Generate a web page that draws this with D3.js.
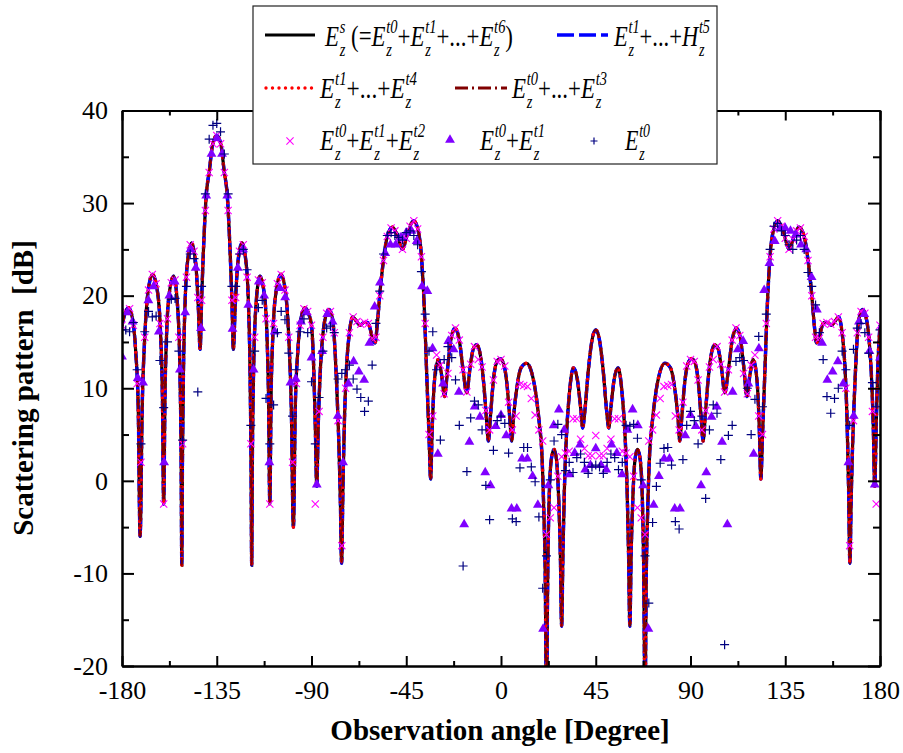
<!DOCTYPE html>
<html>
<head>
<meta charset="utf-8">
<script src="https://d3js.org/d3.v7.min.js"></script>
<style>
  body { margin: 0; background: #fff; }
  text { font-family: "Liberation Serif", "Times New Roman", serif; }
</style>
</head>
<body>
<svg id="chart" width="903" height="753"></svg>
<script>
// total scattered field E_z^s (the four line series coincide)
const totalPattern = [
  [-180,16.8],[-178.7,18],[-176.9,18.7],[-175,17.5],[-173.5,14],[-172.3,8],[-171.4,-6],[-170.4,8],[-169.2,15.5],[-167.7,20.3],
  [-165.5,22.3],[-163.2,20.5],[-161.7,16],[-160.8,9],[-160.2,-2.5],[-159.6,9],[-158.8,16],[-157.5,20.3],[-155.5,22.1],[-153.5,18.5],
  [-152.5,12],[-151.9,2],[-151.6,-9.1],[-151.3,2],[-150.8,12],[-150,19.5],[-148.7,24],[-147,25.7],[-145,23.5],[-143.7,18.5],
  [-142.9,14.2],[-142.2,19.5],[-141.3,25],[-140,30.8],[-138.5,33.5],[-137,36.3],[-135,37.3],[-133,36.3],[-131.5,33.5],[-130,30.8],
  [-128.7,25],[-127.8,19.5],[-127.1,14.2],[-126.3,18.5],[-125,23.5],[-123,25.7],[-121.3,24],[-120,19.5],[-119.2,12],[-118.7,2],
  [-118.4,-9.1],[-118.1,2],[-117.5,12],[-116.5,18.5],[-114.5,22.1],[-112.5,20.3],[-111.2,16],[-110.4,9],[-109.8,-2.5],[-109.2,9],
  [-108.3,16],[-106.8,20.5],[-104.5,22.3],[-102.3,20.3],[-100.8,15.5],[-99.6,8],[-98.6,-5],[-97.7,8],[-96.5,14],[-95,17.5],
  [-93.1,18.7],[-91.3,18],[-90,16.8],[-89,12.5],[-88.2,6],[-87.5,-0.6],[-86.8,6],[-85.8,12],[-84.5,16],[-83,18],
  [-81.7,18.5],[-80,17.5],[-78.8,14],[-77.8,9],[-77,4],[-76.3,-2],[-75.7,-8.9],[-75.1,-1],[-74.3,7],[-73.3,12.5],
  [-72,16],[-70.5,17.7],[-68.5,17.2],[-67,16.8],[-65,17.1],[-63.3,17.1],[-62,16.3],[-61,15.2],[-59.8,14.9],[-58.8,16.8],
  [-57.5,20.3],[-56,23.5],[-54,26.4],[-51.5,27.4],[-49,26.3],[-46.8,25],[-44.5,26.6],[-41.5,28.1],[-39.3,27],[-37.7,24],
  [-36.4,18.5],[-35.2,11],[-34.2,5],[-33.4,0.2],[-32.7,5.5],[-31.6,10.8],[-29.8,13.1],[-28.2,11.4],[-26.8,9.1],[-25.3,12.3],
  [-23.6,15.5],[-21.8,16.5],[-19.8,15.2],[-18,12],[-16.3,9.5],[-14.7,12.2],[-13.1,14.3],[-11.5,14.7],[-9.8,13.6],[-8.2,10.5],
  [-7,7],[-6,4.3],[-5,7],[-3.6,10.9],[-1.9,12.9],[-0.4,13.2],[1.3,12.6],[2.8,10.5],[4.1,7],[5.1,4.3],
  [6,7],[7.5,10],[9.5,12.2],[12.2,12.7],[14.8,11.5],[16.8,9],[18.3,6],[19.4,3],[20.3,-3],[21,-10],
  [21.6,-24],[22.2,-10],[23,-1],[24,2.5],[25.2,3.4],[26.4,2.2],[27.4,-2],[28.2,-8],[28.8,-15.7],[29.4,-8],
  [30.1,-1],[31,4.5],[32.5,9.5],[34.4,12.2],[36.3,10.9],[37.9,7.7],[38.8,5.7],[39.8,7.5],[41.5,12],[43.3,15.3],
  [45,16.3],[46.7,15.3],[48.5,12],[50.2,7.5],[51.2,5.7],[52.1,7.7],[53.7,10.9],[55.6,12.2],[57.5,9.5],[59,4.5],
  [59.9,-1],[60.6,-8],[61.2,-15.7],[61.8,-8],[62.6,-2],[63.6,2.2],[64.8,3.4],[66,2.5],[67,-1],[67.8,-10],
  [68.4,-24],[69,-10],[69.7,-3],[70.6,3],[71.7,6],[73.2,9],[75.2,11.5],[77.8,12.7],[80.5,12.2],[82.5,10],
  [84,7],[84.9,4.3],[85.9,7],[87.2,10.5],[88.7,12.6],[90.4,13.2],[91.9,12.9],[93.6,10.9],[95,7],[96,4.3],
  [97,7],[98.2,10.5],[99.8,13.6],[101.5,14.7],[103.1,14.3],[104.7,12.2],[106.3,9.5],[108,12],[109.8,15.2],[111.8,16.5],
  [113.6,15.5],[115.3,12.3],[116.8,9.1],[118.2,11.4],[119.8,13.1],[121.6,10.8],[122.7,5.5],[123.4,0.2],[124.2,5],[125.2,11],
  [126.4,18.5],[127.7,24],[129.3,27],[131.5,28.1],[134.5,26.6],[136.8,25],[139,26.3],[141.5,27.4],[144,26.4],[146,23.5],
  [147.5,20.3],[148.8,16.8],[149.8,14.9],[151,15.2],[152,16.3],[153.3,17.1],[155,17.1],[157,16.8],[158.5,17.2],[160.5,17.7],
  [162,16],[163.3,12.5],[164.3,7],[165.1,-1],[165.7,-8.9],[166.3,-2],[167,4],[167.8,9],[168.8,14],[170,17.5],
  [171.7,18.5],[173,18],[174.5,16],[175.8,12],[176.8,6],[177.5,-0.6],[178.2,6],[179,12.5],[180,16.8]
];

// observation angles of the E0+E1+E2 and E0 samples (1.8 deg)
const anglesFine = [
  -180,-178.2,-176.4,-174.6,-172.8,-171,-169.2,-167.4,-165.6,-163.8,
  -162,-160.2,-158.4,-156.6,-154.8,-153,-151.2,-149.4,-147.6,-145.8,
  -144,-142.2,-140.4,-138.6,-136.8,-135,-133.2,-131.4,-129.6,-127.8,
  -126,-124.2,-122.4,-120.6,-118.8,-117,-115.2,-113.4,-111.6,-109.8,
  -108,-106.2,-104.4,-102.6,-100.8,-99,-97.2,-95.4,-93.6,-91.8,
  -90,-88.2,-86.4,-84.6,-82.8,-81,-79.2,-77.4,-75.6,-73.8,
  -72,-70.2,-68.4,-66.6,-64.8,-63,-61.2,-59.4,-57.6,-55.8,
  -54,-52.2,-50.4,-48.6,-46.8,-45,-43.2,-41.4,-39.6,-37.8,
  -36,-34.2,-32.4,-30.6,-28.8,-27,-25.2,-23.4,-21.6,-19.8,
  -18,-16.2,-14.4,-12.6,-10.8,-9,-7.2,-5.4,-3.6,-1.8,
  0,1.8,3.6,5.4,7.2,9,10.8,12.6,14.4,16.2,
  18,19.8,21.6,23.4,25.2,27,28.8,30.6,32.4,34.2,
  36,37.8,39.6,41.4,43.2,45,46.8,48.6,50.4,52.2,
  54,55.8,57.6,59.4,61.2,63,64.8,66.6,68.4,70.2,
  72,73.8,75.6,77.4,79.2,81,82.8,84.6,86.4,88.2,
  90,91.8,93.6,95.4,97.2,99,100.8,102.6,104.4,106.2,
  108,109.8,111.6,113.4,115.2,117,118.8,120.6,122.4,124.2,
  126,127.8,129.6,131.4,133.2,135,136.8,138.6,140.4,142.2,
  144,145.8,147.6,149.4,151.2,153,154.8,156.6,158.4,160.2,
  162,163.8,165.6,167.4,169.2,171,172.8,174.6,176.4,178.2,
  180
];

// E_z^t0 + E_z^t1 + E_z^t2  (x markers)
const sumT0T1T2 = [
  16.8,18.3,18.6,16.8,10.5,2,15.5,20.6,22.3,21.3,
  17,-2.5,17.5,21.4,21.7,15.5,4,22,25.5,24.8,
  19.8,19.5,29.2,33.3,36.4,37.3,36.4,33.3,29.2,19.5,
  19.8,24.8,25.5,22,4,15.5,21.7,21.4,17.5,-2.5,
  17,21.3,22.3,20.6,15.5,2,10.5,16.8,18.6,18.3,
  16.8,-2.5,7.5,15.5,18.1,18.3,16,6.5,-7,10,
  16,17.7,17.2,16.9,17.1,17,15.4,15.5,20,23.8,
  26.4,27.3,27,26.1,25,26.2,27.5,28.1,27.2,24.2,
  17,5,7,13.6,12.5,9.4,11.6,15.7,16.5,15.2,
  12,9.6,12.6,14.5,13.1,12.3,7.6,5.5,10.9,12.9,
  13.1,12.4,8.5,5.5,7,10.4,10.3,10.2,8.9,7.1,
  5.5,4.3,-5.8,-4,-2.9,0.5,2.6,3,3.2,6.7,
  6.7,4.5,3.5,2.7,2.7,4.9,2.7,2.7,3.5,4.5,
  6.7,6.7,3.2,3,2.6,0.5,-2.9,-4,-5.8,4.3,
  5.5,7.1,8.9,10.2,10.3,10.4,7,5.5,8.5,12.4,
  13.1,12.9,10.9,5.5,7.6,12.3,13.1,14.5,12.6,9.6,
  12,15.2,16.5,15.7,11.6,9.4,12.5,13.6,7,5,
  17,24.2,27.2,28.1,27.5,26.2,25,26.1,27,27.3,
  26.4,23.8,20,15.5,15.4,17,17.1,16.9,17.2,17.7,
  16,10,-7,6.5,16,18.3,18.1,15.5,7.5,-2.5,
  16.8
];

// E_z^t0 only  (+ markers)
const onlyT0 = [
  16.3,16.3,16.1,17.1,12,4,16.1,18.3,17.7,17.8,
  13,7.9,15,19.6,19.7,14,4.4,21,24.5,24,
  9.6,21,31,36.9,38.4,38.6,37.7,35.3,31,21,
  21,24.5,25,22.8,6,14,18.7,19.5,8.9,4,
  8.2,16,18.3,17.4,13.8,7,12,16.1,17.5,16,
  10.7,4,9,14,16.5,16.7,16,11,11.6,12,
  12.5,11,9.9,9,7.5,8.6,12.5,17,20.5,24.5,
  26.5,26.8,26.5,26.3,26,26.8,27,26.5,25.5,22.6,
  18,14,16.1,12,4.4,13.1,14.5,13.3,10.9,6,
  -9.2,1,6.8,8.6,8.2,5.5,-0.5,-4.2,3.3,6.5,
  7,6.2,3,-4.1,-4.4,1.4,3.6,3.6,1.5,-0.1,
  -3.9,-11.6,-8.1,0.1,4.3,6.1,5,1.1,2,0.9,
  2.5,2.9,2,0.8,1.5,1.7,1.5,0.8,2,2.9,
  2.5,1.2,2,6,5.9,6.1,4.6,0.1,-8.1,-13.2,
  -4.5,-0.6,1.9,3.5,3.6,1.7,-4.4,-5.2,2.3,6,
  7.5,6.5,4,7,-1.9,5.5,8.2,7.3,2.3,-17.7,
  4.9,6,12.9,13.3,13,10,5,8.8,15.6,8,
  18,25,27.5,27.8,27,26.5,25.5,25,26,26.5,
  25,22.5,21,19,16,13.1,9.1,7.3,8.9,10,
  14,12,6,14.2,16.5,17,16,13.8,10.6,8,
  16.3
];

// observation angles of the E0+E1 samples (2.5 deg)
const anglesCoarse = [
  -180,-177.5,-175,-172.5,-170,-167.5,-165,-162.5,-160,-157.5,
  -155,-152.5,-150,-147.5,-145,-142.5,-140,-137.5,-135,-132.5,
  -130,-127.5,-125,-122.5,-120,-117.5,-115,-112.5,-110,-107.5,
  -105,-102.5,-100,-97.5,-95,-92.5,-90,-87.5,-85,-82.5,
  -80,-77.5,-75,-72.5,-70,-67.5,-65,-62.5,-60,-57.5,
  -55,-52.5,-50,-47.5,-45,-42.5,-40,-37.5,-35,-32.5,
  -30,-27.5,-25,-22.5,-20,-17.5,-15,-12.5,-10,-7.5,
  -5,-2.5,0,2.5,5,7.5,10,12.5,15,17.5,
  20,22.5,25,27.5,30,32.5,35,37.5,40,42.5,
  45,47.5,50,52.5,55,57.5,60,62.5,65,67.5,
  70,72.5,75,77.5,80,82.5,85,87.5,90,92.5,
  95,97.5,100,102.5,105,107.5,110,112.5,115,117.5,
  120,122.5,125,127.5,130,132.5,135,137.5,140,142.5,
  145,147.5,150,152.5,155,157.5,160,162.5,165,167.5,
  170,172.5,175,177.5,180
];

// E_z^t0 + E_z^t1  (triangles)
const sumT0T1 = [
  13.4,18.2,17.2,11.1,10.6,19.5,21,16.1,2,20,
  21.5,12,18.2,25,23,16.5,30.8,35.3,37,35.3,
  30.8,16.4,23,25,19,12,21.5,20,2,16.1,
  20.8,19.8,10.6,11,17.2,18.2,13.3,-0.4,14,18,
  17.2,7,2,10.5,12.9,11.8,10.9,14.9,18.8,21.4,
  24.6,25.5,25.5,26.3,26.8,27,25.9,21,20.5,14.3,
  2.9,10.5,15.1,14.2,9.6,-4.7,4.2,8,6.9,0.9,
  -0.5,5.9,7.1,4.9,-3,-3,2.4,2.4,0.5,-2.6,
  -16,-0.5,6,7.7,5.5,0.7,3,3.9,1.2,1.7,
  3.5,1.7,1.2,3.9,3,0.7,5.5,7.7,6,-0.5,
  -16,-2.6,0.5,2.4,2.4,-3,-3,4.9,7.1,5.9,
  -0.5,0.9,6.9,8,4.2,-4.7,9.6,14.2,15.1,10.5,
  2.9,14.3,20.6,23.5,25.9,27.3,27.3,27,26.6,25.5,
  25,22,18.5,14.9,10.9,11.8,12.9,10.5,2,7,
  17.2,18,14,-0.4,13.3
];

const xMajor = [-180, -135, -90, -45, 0, 45, 90, 135, 180];
const xMinor = [-157.5, -112.5, -67.5, -22.5, 22.5, 67.5, 112.5, 157.5];
const xTickLabels = ['-180', '-135', '-90', '-45', '0', '45', '90', '135', '180'];
const yMajor = [-20, -10, 0, 10, 20, 30, 40];
const yMinor = [-15, -5, 5, 15, 25, 35];
const yTickLabels = ['-20', '-10', '0', '10', '20', '30', '40'];

// legend labels: strings are upright, arrays are [base, superscript, subscript]
const legendLabels = [
  [['E','s','z'], '\u00a0(=', ['E','t0','z'], '+', ['E','t1','z'], '+...+', ['E','t6','z'], ')'],
  [['E','t1','z'], '+...+', ['H','t5','z']],
  [['E','t1','z'], '+...+', ['E','t4','z']],
  [['E','t0','z'], '+...+', ['E','t3','z']],
  [['E','t0','z'], '+', ['E','t1','z'], '+', ['E','t2','z']],
  [['E','t0','z'], '+', ['E','t1','z']],
  [['E','t0','z']]
];

const serif = '"Liberation Serif", "Times New Roman", serif';
const svg = d3.select('#chart');
const pLeft = 122, pRight = 880, pTop = 110.5, pBottom = 666;

const x = d3.scaleLinear().domain([-180, 180]).range([pLeft, pRight]);
const y = d3.scaleLinear().domain([-20, 40]).range([pBottom, pTop]);

svg.append('defs').append('clipPath').attr('id', 'plotClip')
  .append('rect').attr('x', pLeft).attr('y', pTop)
  .attr('width', pRight - pLeft).attr('height', pBottom - pTop);

const plot = svg.append('g').attr('clip-path', 'url(#plotClip)');

const line = d3.line()
  .x(d => x(d[0]))
  .y(d => y(d[1]))
  .curve(d3.curveMonotoneX);

// lines in legend order
plot.append('path').datum(totalPattern)
  .attr('d', line).attr('fill', 'none')
  .attr('stroke', '#000').attr('stroke-width', 3.2);
plot.append('path').datum(totalPattern)
  .attr('d', line).attr('fill', 'none')
  .attr('stroke', '#0000ff').attr('stroke-width', 3.4)
  .attr('stroke-dasharray', '12,4');
plot.append('path').datum(totalPattern)
  .attr('d', line).attr('fill', 'none')
  .attr('stroke', '#ff0000').attr('stroke-width', 3.6)
  .attr('stroke-linecap', 'round').attr('stroke-dasharray', '0,6.5');
plot.append('path').datum(totalPattern)
  .attr('d', line).attr('fill', 'none')
  .attr('stroke', '#800000').attr('stroke-width', 2.2)
  .attr('stroke-dasharray', '12,4,2,4');

// markers
const crossPath = 'M-3.6,-3.6L3.6,3.6M-3.6,3.6L3.6,-3.6';
const plusPath = 'M-4.5,0H4.5M0,-4.5V4.5';
const triPath = d3.symbol().type(d3.symbolTriangle).size(42)();

plot.append('g').selectAll('path')
  .data(anglesFine.map((a, i) => [a, sumT0T1T2[i]]))
  .join('path')
  .attr('transform', d => `translate(${x(d[0])},${y(d[1])})`)
  .attr('d', crossPath).attr('fill', 'none')
  .attr('stroke', '#ff00ff').attr('stroke-width', 1.1);

plot.append('g').selectAll('path')
  .data(anglesCoarse.map((a, i) => [a, sumT0T1[i]]))
  .join('path')
  .attr('transform', d => `translate(${x(d[0])},${y(d[1])})`)
  .attr('d', triPath).attr('fill', '#8000ff');

plot.append('g').selectAll('path')
  .data(anglesFine.map((a, i) => [a, onlyT0[i]]))
  .join('path')
  .attr('transform', d => `translate(${x(d[0])},${y(d[1])})`)
  .attr('d', plusPath).attr('fill', 'none')
  .attr('stroke', '#000080').attr('stroke-width', 1.2);

// axes with inward ticks
function styleAxis(g) {
  g.attr('font-size', 26).attr('font-family', serif);
  g.selectAll('path, line').attr('stroke', '#000').attr('stroke-width', 2);
  g.selectAll('text').attr('fill', '#000')
    .style('font-family', serif).style('font-size', '26px');
}

svg.append('g').attr('transform', `translate(0,${pBottom})`)
  .call(d3.axisBottom(x).tickValues(xMajor).tickSizeInner(-10).tickSizeOuter(0)
    .tickPadding(15).tickFormat((d, i) => xTickLabels[i]))
  .call(styleAxis);
svg.append('g').attr('transform', `translate(0,${pBottom})`)
  .call(d3.axisBottom(x).tickValues(xMinor).tickSizeInner(-5).tickSizeOuter(0).tickFormat(''))
  .call(styleAxis);
svg.append('g').attr('transform', `translate(0,${pTop})`)
  .call(d3.axisTop(x).tickValues(xMajor).tickSizeInner(-10).tickSizeOuter(0).tickFormat(''))
  .call(styleAxis);
svg.append('g').attr('transform', `translate(0,${pTop})`)
  .call(d3.axisTop(x).tickValues(xMinor).tickSizeInner(-5).tickSizeOuter(0).tickFormat(''))
  .call(styleAxis);

svg.append('g').attr('transform', `translate(${pLeft},0)`)
  .call(d3.axisLeft(y).tickValues(yMajor).tickSizeInner(-12).tickSizeOuter(0)
    .tickPadding(14).tickFormat((d, i) => yTickLabels[i]))
  .call(styleAxis);
svg.append('g').attr('transform', `translate(${pLeft},0)`)
  .call(d3.axisLeft(y).tickValues(yMinor).tickSizeInner(-7).tickSizeOuter(0).tickFormat(''))
  .call(styleAxis);
svg.append('g').attr('transform', `translate(${pRight},0)`)
  .call(d3.axisRight(y).tickValues(yMajor).tickSizeInner(-12).tickSizeOuter(0).tickFormat(''))
  .call(styleAxis);
svg.append('g').attr('transform', `translate(${pRight},0)`)
  .call(d3.axisRight(y).tickValues(yMinor).tickSizeInner(-7).tickSizeOuter(0).tickFormat(''))
  .call(styleAxis);

// axis titles
svg.append('text')
  .attr('x', 500).attr('y', 740)
  .attr('text-anchor', 'middle').attr('font-size', 29).attr('font-weight', 'bold')
  .text('Observation angle [Degree]');
svg.append('text')
  .attr('transform', 'translate(33,388) rotate(-90)')
  .attr('text-anchor', 'middle').attr('font-size', 29).attr('font-weight', 'bold')
  .text('Scattering pattern\u00a0 [dB]');

// legend
const legend = svg.append('g');
legend.append('rect')
  .attr('x', 253).attr('y', 6).attr('width', 464).attr('height', 158)
  .attr('fill', '#fff').attr('stroke', '#222').attr('stroke-width', 1.2);

function richLabel(parent, tokens, x0, base, width) {
  const g = parent.append('g');
  let cx = 0;
  tokens.forEach(t => {
    if (typeof t === 'string') {
      const el = g.append('text').attr('x', cx).attr('y', base)
        .attr('font-size', 30).text(t);
      cx += el.node().getComputedTextLength();
    } else {
      const b = g.append('text').attr('x', cx).attr('y', base)
        .attr('font-size', 30).attr('font-style', 'italic').text(t[0]);
      cx += b.node().getComputedTextLength() + 1;
      const sp = g.append('text').attr('x', cx).attr('y', base - 13)
        .attr('font-size', 19).attr('font-style', 'italic').text(t[1]);
      const sb = g.append('text').attr('x', cx).attr('y', base + 10)
        .attr('font-size', 19).attr('font-style', 'italic').text(t[2]);
      cx += Math.max(sp.node().getComputedTextLength(), sb.node().getComputedTextLength());
    }
  });
  g.attr('transform', `translate(${x0},0) scale(${width / cx},1)`);
}

// legend samples
legend.append('line').attr('x1', 265).attr('x2', 315).attr('y1', 35).attr('y2', 35)
  .attr('stroke', '#000').attr('stroke-width', 3.2);
legend.append('line').attr('x1', 557).attr('x2', 608).attr('y1', 35).attr('y2', 35)
  .attr('stroke', '#0000ff').attr('stroke-width', 3.4).attr('stroke-dasharray', '17,5');
legend.append('line').attr('x1', 266).attr('x2', 312).attr('y1', 88).attr('y2', 88)
  .attr('stroke', '#ff0000').attr('stroke-width', 3.4)
  .attr('stroke-linecap', 'round').attr('stroke-dasharray', '0,6.5');
legend.append('line').attr('x1', 455).attr('x2', 507).attr('y1', 88).attr('y2', 88)
  .attr('stroke', '#800000').attr('stroke-width', 3).attr('stroke-dasharray', '13,4,2,4');
legend.append('path').attr('transform', 'translate(290,141)')
  .attr('d', crossPath).attr('fill', 'none').attr('stroke', '#ff00ff').attr('stroke-width', 1.1);
legend.append('path').attr('transform', 'translate(450,140)')
  .attr('d', triPath).attr('fill', '#8000ff');
legend.append('path').attr('transform', 'translate(594,141)')
  .attr('d', 'M-3.5,0H3.5M0,-3.5V3.5').attr('fill', 'none').attr('stroke', '#000080').attr('stroke-width', 1.2);

richLabel(legend, legendLabels[0], 325, 46, 188);
richLabel(legend, legendLabels[1], 614, 46, 96);
richLabel(legend, legendLabels[2], 320, 98, 97);
richLabel(legend, legendLabels[3], 512, 98, 95);
richLabel(legend, legendLabels[4], 320, 150, 105);
richLabel(legend, legendLabels[5], 480, 150, 65);
richLabel(legend, legendLabels[6], 625, 150, 25);
</script>
</body>
</html>
